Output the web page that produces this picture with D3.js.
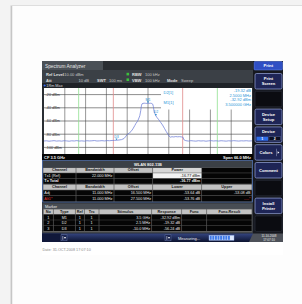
<!DOCTYPE html>
<html><head><meta charset="utf-8">
<script src="https://cdn.jsdelivr.net/npm/d3@7"></script>
<style>
html,body{margin:0;padding:0;background:#f3f3f3;}
svg{display:block;}
text{font-family:"Liberation Sans",Arial,sans-serif;}
</style></head><body>
<svg id="chart" width="302" height="304"></svg>
<script>
// spectrum trace, offset from CF in MHz / level in dBm
const traceFreq = [-33, -32.2, -31.4, -30.6, -29.8, -29, -28.2, -27.4, -26.6, -25.8, -25, -24.2, -23.4, -22.6,
  -21.8, -21, -20.2, -19.4, -18.6, -17.8, -17, -16.2, -15.4, -14.6, -13.8, -13, -12.2, -11.4,
  -10.6, -10, -9.2, -8.4, -7.6, -7, -6.6, -6, -5.4, -4.8, -4.2, -3.8, -3.4, -3, -2.6, -2.3, -2.1, -1.9,
  -1.6, -1.2, -0.8, -0.4, 0, 0.4, 0.8, 1.2, 1.5, 1.7, 1.9, 2.2, 2.5, 2.9, 3.4, 4, 4.6, 5.2, 5.8, 6.3,
  6.7, 7.1, 7.6, 8.2, 8.8, 9.4, 10, 10.6, 11.1, 11.4,
  12, 12.8, 13.6, 14.4, 15.2, 16, 16.8, 17.6, 18.4, 19.2, 20, 20.8, 21.6, 22.4, 23.2, 24, 24.8, 25.6,
  26.4, 27.2, 28, 28.8, 29.6, 30.4, 31.2, 32, 33];
const traceLevel = [-90.3, -90.0, -90.6, -90.2, -89.8, -90.4, -90.1, -90.5, -89.9, -90.2, -90.6, -90.0, -90.3, -89.7,
  -90.4, -90.1, -90.5, -89.9, -90.2, -90.0, -89.6, -90.3, -90.1, -89.8, -90.2, -89.7, -89.9, -89.5,
  -89.4, -89.16, -88.8, -88.2, -86.5, -83, -80.5, -78.5, -76, -72, -67, -63.5, -61, -57, -52, -44, -37, -34,
  -33.3, -33.0, -33.2, -33.4, -32.92, -33.3, -33.1, -33.5, -34.5, -38, -44, -49, -52.24, -55, -58, -62, -66, -71, -76, -80,
  -83, -84.5, -83.8, -84.2, -83.6, -84.0, -83.7, -84.1, -84.5, -88.5,
  -89.8, -90.4, -89.8, -90.2, -90.5, -89.9, -90.3, -90.0, -90.6, -90.1, -89.8, -90.3, -90.0, -90.4, -89.9, -90.2, -90.5, -90.0,
  -90.3, -89.8, -90.1, -90.4, -90.0, -90.2, -89.9, -90.3, -90.1];

const yTickLevels = [-20, -40, -60, -80, -100];
const yTickLabels = ["-20 dBm", "-40 dBm", "-60 dBm", "-80 dBm", "-100 dBm"];
const txChannelEdges = [-11, 11];
const adjChannelEdges = [-22, 22];

const markerNames = ["M1", "D2", "D3"];
const markerFreq = [0, 2.5, -10];
const markerLevel = [-32.92, -52.24, -89.16];
const markerInfoLeft = ["D2[1]", "M1[1]"];
const markerInfoRight = ["-19.32 dB", "2.5000 MHz", "-32.92 dBm", "3.500000 GHz"];

const acpHead1 = ["Channel", "Bandwidth", "Offset", "Power", ""];
const acpTxRow = ["Tx1 (Ref)", "22.000 MHz", "", "-16.77 dBm", ""];
const acpTotalRow = ["Tx Total", "", "", "-16.77 dBm", ""];
const acpHead2 = ["Channel", "Bandwidth", "Offset", "Lower", "Upper"];
const acpAdjRow = ["Adj", "11.000 MHz", "16.500 MHz", "-53.64 dB", "-53.08 dB"];
const acpAltRow = ["Alt1*", "11.000 MHz", "27.500 MHz", "-53.76 dB", "----*"];

const mkHead = ["No", "Type", "Ref", "Trc", "Stimulus", "Response", "Func", "Func.Result"];
const mkRows = [
  ["1", "M1", "1", "1", "3.5 GHz", "-32.92 dBm", "", ""],
  ["2", "D2", "1", "1", "2.5 MHz", "-19.32 dB", "", ""],
  ["3", "D3", "1", "1", "-10.0 MHz", "-56.24 dB", "", ""]
];

const softkeys = ["Print Screen", "", "Device Setup", "Device", "Colors", "Comment", "", "Install Printer", ""];

const svg = d3.select('#chart');

function txt(g, x, y, s, o = {}) {
  return g.append('text').attr('x', x).attr('y', y).text(s)
    .attr('font-size', o.size || 4.2)
    .attr('fill', o.fill || '#fff')
    .attr('text-anchor', o.anchor || 'start')
    .attr('font-weight', o.weight || 'normal')
    .attr('font-family', o.family || null);
}

// page frame
svg.append('rect').attr('x', 11).attr('y', 5.5).attr('width', 292).attr('height', 300)
  .attr('fill', '#fdfdfd').attr('stroke', '#dedede').attr('stroke-width', 1);
svg.append('line').attr('x1', 11.5).attr('x2', 11.5).attr('y1', 6).attr('y2', 304)
  .attr('stroke', '#c6c6c6').attr('stroke-width', 1.5);
svg.append('rect').attr('x', 42).attr('y', 242).attr('width', 241).attr('height', 13).attr('fill', '#fff');

// screen
const scr = svg.append('g');
scr.append('rect').attr('x', 42).attr('y', 61).attr('width', 241).attr('height', 181).attr('fill', '#2a2e33');
scr.append('rect').attr('x', 42).attr('y', 61).attr('width', 61).attr('height', 9).attr('fill', '#4a5056');
txt(scr, 45, 67.6, "Spectrum Analyzer", {size: 4.8, fill: '#e8e8e8'});
scr.append('rect').attr('x', 42).attr('y', 70).attr('width', 211).attr('height', 13).attr('fill', '#3b4046');
txt(scr, 46, 76, "Ref Level", {fill: '#e0e0e0', weight: 'bold', size: 4});
txt(scr, 63, 76, "-10.00 dBm", {fill: '#c4c4c4', size: 4});
txt(scr, 46, 81.6, "Att", {fill: '#e0e0e0', weight: 'bold', size: 4});
txt(scr, 89, 81.6, "10 dB", {fill: '#c4c4c4', size: 4, anchor: 'end'});
txt(scr, 97, 81.6, "SWT", {fill: '#e0e0e0', weight: 'bold', size: 4});
txt(scr, 109, 81.6, "100 ms", {fill: '#c4c4c4', size: 4});
scr.selectAll('.gsq').data([72.8, 78.4]).enter().append('rect')
  .attr('x', 126.5).attr('y', d => d).attr('width', 2.6).attr('height', 2.6).attr('fill', '#3cc03c');
txt(scr, 132, 76, "RBW", {fill: '#e0e0e0', weight: 'bold', size: 4});
txt(scr, 145, 76, "100 kHz", {fill: '#c4c4c4', size: 4});
txt(scr, 132, 81.6, "VBW", {fill: '#e0e0e0', weight: 'bold', size: 4});
txt(scr, 145, 81.6, "100 kHz", {fill: '#c4c4c4', size: 4});
txt(scr, 167, 81.6, "Mode", {fill: '#e0e0e0', weight: 'bold', size: 4});
txt(scr, 181, 81.6, "Sweep", {fill: '#c4c4c4', size: 4});
scr.append('rect').attr('x', 42).attr('y', 83).attr('width', 211).attr('height', 5).attr('fill', '#1f2328');
scr.append('circle').attr('cx', 44.6).attr('cy', 85.5).attr('r', 1.1).attr('fill', '#3a6cf0');
txt(scr, 46.3, 87.2, "1Rm Max", {size: 3.8, fill: '#d8d8d8'});

// plot
const x = d3.scaleLinear().domain([-33, 33]).range([44, 252]);
const y = d3.scaleLinear().domain([-110, -10]).range([154, 88]);
const gridX = d3.range(11).map(i => -33 + i * 6.6);
const plot = svg.append('g');
plot.append('rect').attr('x', x(-33)).attr('y', y(-10)).attr('width', x(33) - x(-33)).attr('height', y(-110) - y(-10))
  .attr('fill', '#fff');
plot.selectAll('.vg').data(gridX.slice(1, -1)).enter().append('line')
  .attr('x1', d => x(d)).attr('x2', d => x(d)).attr('y1', y(-10)).attr('y2', y(-110))
  .attr('stroke', '#505050').attr('stroke-width', 0.6);
plot.selectAll('.hg').data(yTickLevels).enter().append('line')
  .attr('x1', x(-33)).attr('x2', x(33)).attr('y1', d => y(d)).attr('y2', d => y(d))
  .attr('stroke', '#404040').attr('stroke-width', 0.6);
// marker info box
plot.append('rect').attr('x', 161).attr('y', 88).attr('width', 91).attr('height', 21.5).attr('fill', '#fff');
plot.selectAll('.tx').data(txChannelEdges).enter().append('line')
  .attr('x1', d => x(d)).attr('x2', d => x(d)).attr('y1', y(-10)).attr('y2', y(-110))
  .attr('stroke', '#e08a8a').attr('stroke-width', 0.8);
plot.selectAll('.adj').data(adjChannelEdges).enter().append('line')
  .attr('x1', d => x(d)).attr('x2', d => x(d)).attr('y1', y(-10)).attr('y2', y(-110))
  .attr('stroke', '#8fe08f').attr('stroke-width', 0.8);
plot.selectAll('.yl').data(yTickLabels).enter().append('text')
  .attr('x', 45.5).attr('y', (d, i) => y(yTickLevels[i]) + 1.3).text(d => d)
  .attr('font-size', 3.8).attr('fill', '#333');

const line = d3.line().x(d => x(d[0])).y(d => y(d[1]));
plot.append('path').datum(traceFreq.map((f, i) => [f, traceLevel[i]]))
  .attr('d', line).attr('fill', 'none').attr('stroke', '#6d7ed6').attr('stroke-width', 0.75);

const mk = plot.selectAll('.mk').data(markerNames).enter().append('g');
mk.append('path').attr('d', (d, i) => {
  const mx = x(markerFreq[i]), my = y(markerLevel[i]);
  return `M${mx - 1},${my - 1.8}L${mx + 1},${my - 1.8}L${mx},${my}Z`;
}).attr('fill', '#2a8fd0');
mk.append('text').attr('x', (d, i) => x(markerFreq[i])).attr('y', (d, i) => y(markerLevel[i]) - 2.6)
  .attr('text-anchor', 'middle').attr('font-size', 3.6).attr('fill', '#2a8fd0').text(d => d);

plot.selectAll('.mil').data(markerInfoLeft).enter().append('text')
  .attr('x', 163.5).attr('y', (d, i) => 94.3 + i * 9.5).text(d => d)
  .attr('font-size', 4).attr('fill', '#2a96d8');
plot.selectAll('.mir').data(markerInfoRight).enter().append('text')
  .attr('x', 251).attr('y', (d, i) => 92.3 + i * 4.5).text(d => d).attr('text-anchor', 'end')
  .attr('font-size', 4).attr('fill', '#2a96d8');

scr.append('rect').attr('x', 42).attr('y', 154).attr('width', 211).attr('height', 6).attr('fill', '#050505');
txt(scr, 44, 158.6, "CF 3.5 GHz", {size: 4, weight: 'bold', fill: '#f0f0f0'});
txt(scr, 251, 158.6, "Span 66.0 MHz", {size: 4, weight: 'bold', fill: '#f0f0f0', anchor: 'end'});

// tables
function drawRow(g, cols, y0, h, cells, opts) {
  cells.forEach((c, i) => {
    const x0 = cols[i] + 0.35, w = cols[i + 1] - cols[i] - 0.7;
    let fill = opts.fill, tf = opts.text;
    if (opts.cellFill && opts.cellFill[i]) fill = opts.cellFill[i];
    if (opts.cellText && opts.cellText[i]) tf = opts.cellText[i];
    g.append('rect').attr('x', x0).attr('y', y0).attr('width', w).attr('height', h).attr('fill', fill);
    if (!c) return;
    let anchor = opts.align ? opts.align[i] : 'middle';
    const tx = anchor === 'start' ? x0 + 1 : anchor === 'end' ? x0 + w - 1.2 : x0 + w / 2;
    txt(g, tx, y0 + h - 1.3, c, {size: 3.8, fill: tf, anchor: anchor,
      weight: (opts.bold && opts.bold[i]) ? 'bold' : (opts.weight || 'normal')});
  });
}

const acp = svg.append('g');
acp.append('rect').attr('x', 42.6).attr('y', 160.4).attr('width', 209.8).attr('height', 41.6)
  .attr('fill', '#5c5c5c').attr('stroke', '#4d6fb0').attr('stroke-width', 0.8);
acp.append('rect').attr('x', 43).attr('y', 160.8).attr('width', 209).attr('height', 6.8).attr('fill', '#3b4046');
txt(acp, 148, 165.9, "WLAN 802.11B", {size: 4, weight: 'bold', anchor: 'middle', fill: '#f0f0f0'});
const acpCols = [43, 76, 114, 152.7, 201.7, 252];
const dataAlign = ['start', 'end', 'end', 'end', 'end'];
drawRow(acp, acpCols, 168, 4.7, acpHead1, {fill: '#c2c2c2', text: '#151515', weight: 'bold',
  cellFill: {3: '#d6d6d6', 4: '#050505'}});
drawRow(acp, acpCols, 173.2, 5, acpTxRow, {fill: '#050505', text: '#e8e8e8', align: dataAlign,
  cellFill: {3: '#f2f2f2'}, cellText: {3: '#111'}});
drawRow(acp, acpCols, 178.7, 5, acpTotalRow, {fill: '#050505', text: '#f0f0f0', align: dataAlign,
  bold: {0: true, 3: true}});
drawRow(acp, acpCols, 184.7, 5, acpHead2, {fill: '#c2c2c2', text: '#151515', weight: 'bold'});
drawRow(acp, acpCols, 190.3, 5, acpAdjRow, {fill: '#050505', text: '#e8e8e8', align: dataAlign});
drawRow(acp, acpCols, 195.9, 5.5, acpAltRow, {fill: '#050505', text: '#e8e8e8', align: dataAlign,
  cellText: {0: '#e03a3a', 4: '#e03a3a'}});

const mt = svg.append('g');
mt.append('rect').attr('x', 42.6).attr('y', 203.6).attr('width', 209.8).attr('height', 29)
  .attr('fill', '#5c5c5c').attr('stroke', '#3e4248').attr('stroke-width', 0.6);
mt.append('rect').attr('x', 42.9).attr('y', 204).attr('width', 209.2).attr('height', 4.8).attr('fill', '#484d54');
txt(mt, 45, 207.9, "Marker", {size: 3.9, fill: '#eeeeee'});
const mkCols = [43.3, 53.3, 75.3, 84.3, 99, 151.7, 181.7, 206.7, 252];
drawRow(mt, mkCols, 209.4, 4.7, mkHead, {fill: '#c2c2c2', text: '#151515', weight: 'bold'});
mkRows.forEach((r, i) => {
  drawRow(mt, mkCols, 214.6 + i * 5.6, 5.2, r, {fill: '#050505', text: '#e8e8e8',
    align: ['middle', 'middle', 'middle', 'middle', 'end', 'end', 'end', 'end']});
});

// status bar
const sb = svg.append('g');
const grad = svg.append('defs').append('linearGradient').attr('id', 'sbg').attr('x1', 0).attr('x2', 0).attr('y1', 0).attr('y2', 1);
grad.append('stop').attr('offset', 0).attr('stop-color', '#34447e');
grad.append('stop').attr('offset', 1).attr('stop-color', '#0c1330');
sb.append('rect').attr('x', 42).attr('y', 233.5).attr('width', 211).attr('height', 8.5).attr('fill', 'url(#sbg)');
sb.append('rect').attr('x', 42).attr('y', 233.5).attr('width', 19).attr('height', 8.5).attr('fill', '#10183a');
[61, 165].forEach(bx => {
  sb.append('rect').attr('x', bx).attr('y', 234.8).attr('width', 6).attr('height', 6).attr('fill', '#1a2450').attr('stroke', '#7080b0').attr('stroke-width', 0.4);
  sb.append('line').attr('x1', bx + 1.8).attr('x2', bx + 1.8).attr('y1', 236).attr('y2', 239.8).attr('stroke', '#fff').attr('stroke-width', 0.5);
  sb.append('path').attr('d', `M${bx + 3},${237}L${bx + 5},${237}L${bx + 4},${239}Z`).attr('fill', '#fff');
});
txt(sb, 178, 239.5, "Measuring...", {size: 4, fill: '#f0f0f0'});
sb.append('rect').attr('x', 209).attr('y', 235.3).attr('width', 25).attr('height', 5)
  .attr('fill', '#dce8ff').attr('stroke', '#8aa8e8').attr('stroke-width', 0.4);
sb.selectAll('.pg').data(d3.range(8)).enter().append('rect')
  .attr('x', d => 209.7 + d * 2.6).attr('y', 235.8).attr('width', 2).attr('height', 4).attr('fill', '#3f7ae8');

// softkeys
const sk = svg.append('g');
sk.append('rect').attr('x', 253).attr('y', 61).attr('width', 30).attr('height', 181).attr('fill', '#16181f');
sk.append('rect').attr('x', 254).attr('y', 61.5).attr('width', 28.5).attr('height', 8.5).attr('rx', 1)
  .attr('fill', '#2f4fc4').attr('stroke', '#6a88e8').attr('stroke-width', 0.5);
txt(sk, 268.3, 67.4, "Print", {size: 4.2, weight: 'bold', anchor: 'middle'});
softkeys.forEach((k, i) => {
  const by = 73.5 + i * 17.8;
  const empty = k === '';
  sk.append('rect').attr('x', 255).attr('y', by).attr('width', 27).attr('height', 15.5).attr('rx', 1.5)
    .attr('fill', empty ? '#0b0c11' : '#1e2556').attr('stroke', empty ? '#2a2e3a' : '#9aa8dc').attr('stroke-width', 0.7);
  if (empty) return;
  if (k === 'Device') {
    txt(sk, 268.5, by + 6, k, {size: 4.1, weight: 'bold', anchor: 'middle'});
    sk.append('rect').attr('x', 256.5).attr('y', by + 9.8).attr('width', 11.5).attr('height', 4).attr('fill', '#2f6ee8');
    sk.append('rect').attr('x', 269).attr('y', by + 9.8).attr('width', 11.5).attr('height', 4).attr('fill', '#0c0f22').attr('stroke', '#8090c0').attr('stroke-width', 0.3);
    txt(sk, 262.2, by + 13.1, "1", {size: 3.5, anchor: 'middle', weight: 'bold'});
    txt(sk, 274.7, by + 13.1, "2", {size: 3.5, anchor: 'middle', weight: 'bold'});
    return;
  }
  const parts = k.split(' ');
  if (parts.length === 2) {
    txt(sk, 268.5, by + 6.8, parts[0], {size: 4.1, weight: 'bold', anchor: 'middle'});
    txt(sk, 268.5, by + 11.6, parts[1], {size: 4.1, weight: 'bold', anchor: 'middle'});
  } else if (k === 'Colors') {
    txt(sk, 266, by + 9.3, k, {size: 4.1, weight: 'bold', anchor: 'middle'});
    sk.append('line').attr('x1', 276.5).attr('x2', 276.5).attr('y1', by + 4).attr('y2', by + 11.5).attr('stroke', '#c0c8e8').attr('stroke-width', 0.4);
    sk.append('path').attr('d', `M${277.6},${by + 6.6}L${279.4},${by + 7.8}L${277.6},${by + 9}Z`).attr('fill', '#fff');
  } else {
    txt(sk, 268.5, by + 9.3, k, {size: 4.1, weight: 'bold', anchor: 'middle'});
  }
});
sk.append('path').attr('d', 'M253,233.5L283,233.5L283,242L249,242Z').attr('fill', '#4d5159');
txt(sk, 269, 237.3, "11.10.2008", {size: 3, anchor: 'middle', fill: '#f0f0f0'});
txt(sk, 269, 240.9, "17:07:10", {size: 3, anchor: 'middle', fill: '#f0f0f0'});

// footer
txt(svg, 42.5, 250.5, "Date: 31.OCT.2008  17:07:10", {size: 3.8, fill: '#8a8a8a', family: '"DejaVu Sans Mono", monospace'});
</script>
</body></html>
